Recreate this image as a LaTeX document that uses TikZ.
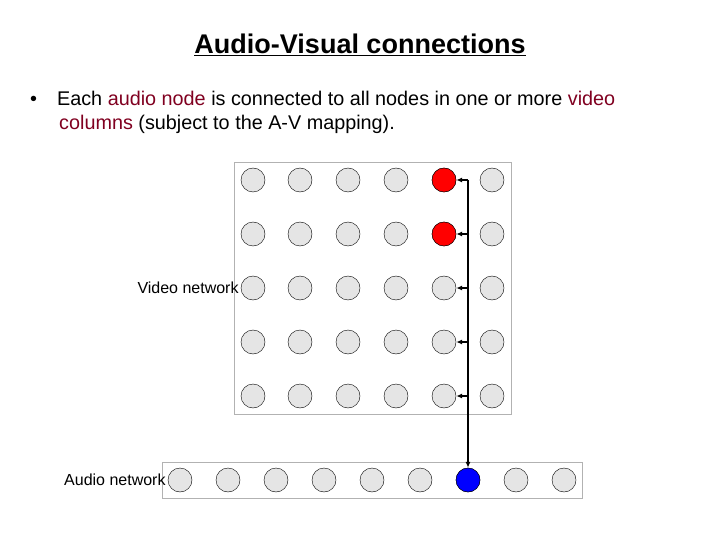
\documentclass[tikz,border=0pt]{standalone}
\usepackage{fontspec}
\setmainfont{Liberation Sans}
\usetikzlibrary{arrows.meta}
\definecolor{dred}{RGB}{128,0,32}
\begin{document}
\begin{tikzpicture}[x=1pt,y=-1pt,
  nd/.style={circle,draw=black,fill=gray!20,minimum size=24pt,inner sep=0pt},
  red/.style={nd,fill=red},
  blu/.style={nd,fill=blue},
  frame/.style={draw=gray!60,fill=white},
  lbl/.style={anchor=east,font=\fontsize{16}{18}\selectfont,inner sep=0pt,xshift=-2pt},
  conn/.style={line width=1.6pt,-{Latex[length=6pt,width=5pt]}}]
\useasboundingbox (0,0) rectangle (720,540);
\node[font=\bfseries\fontsize{27}{30}\selectfont] (title) at (360,45) {\underline{Audio-Visual connections}};
\node[anchor=west,align=left,font=\fontsize{19.8}{24}\selectfont,inner sep=0pt] (txt) at (30,112)
 {•\hspace{20pt}Each \textcolor{dred}{audio node} is connected to all nodes in one or more \textcolor{dred}{video}\\
 \hspace{29pt}\textcolor{dred}{columns} (subject to the A-V mapping).};
\draw[frame] (234,162) rectangle (511,414);
\draw[frame] (162,462) rectangle (582,498);
\foreach \c/\x in {1/253,2/300,3/348,4/396,5/444,6/492}
 \foreach \r/\y in {1/180,2/234,3/288,4/342,5/396}
  \node[nd] (v\c\r) at (\x,\y) {};
\node[red] at (v51) {};
\node[red] at (v52) {};
\foreach \i/\x in {1/180,2/228,3/276,4/324,5/372,6/420,7/468,8/516,9/564}
 \node[nd] (a\i) at (\x,480) {};
\node[blu] (a7) at (468,480) {};
\node[lbl] (vl) at (v13.west) {Video network};
\node[lbl] (al) at (a1.west) {Audio network};
\coordinate (top) at (468,180);
\draw[conn] (top) -- (a7.north);
\foreach \r in {1,...,5}{
  \coordinate (b\r) at (top |- v5\r);
  \draw[conn] (b\r) -- (v5\r.east);}
\end{tikzpicture}
\end{document}
